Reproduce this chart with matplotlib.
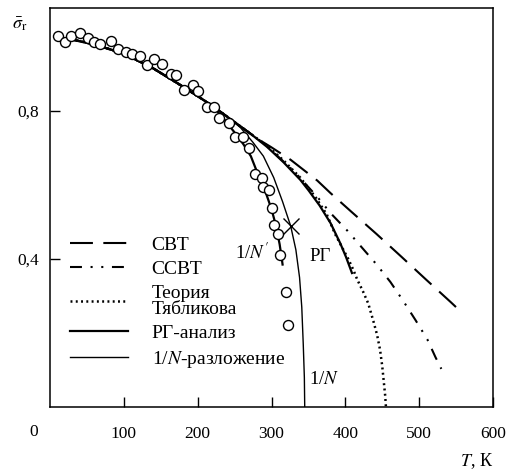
import matplotlib
matplotlib.use('Agg')
import matplotlib.pyplot as plt

plt.rcParams['font.family'] = ['Liberation Serif', 'DejaVu Serif']
plt.rcParams['mathtext.fontset'] = 'stix'
plt.rcParams['lines.scale_dashes'] = False

# ---------------- data ----------------
# experimental points
exp_T = [11, 20, 28, 40, 51, 59, 68, 82, 92, 103, 111, 122, 131, 141, 152, 164, 171,
         181, 194, 201, 212, 222, 229, 242, 251, 261, 270, 277, 287, 289, 296, 300,
         304, 309, 312, 320, 323]
exp_s = [1.003, 0.987, 1.003, 1.010, 0.998, 0.987, 0.980, 0.990, 0.967, 0.960, 0.953,
         0.949, 0.924, 0.940, 0.926, 0.901, 0.896, 0.858, 0.869, 0.853, 0.811, 0.811,
         0.780, 0.767, 0.730, 0.730, 0.700, 0.629, 0.619, 0.595, 0.586, 0.539, 0.492,
         0.468, 0.411, 0.311, 0.222]

# common low-temperature part of the theory curves
com_T = [8, 30, 60, 100, 140, 180, 220, 250, 272]
com_s = [1.000, 0.993, 0.980, 0.955, 0.915, 0.866, 0.814, 0.770, 0.738]

cbt_T = com_T + [285, 299, 326, 362, 380, 408, 442, 476, 509, 543, 560]
cbt_s = com_s + [0.720, 0.703, 0.668, 0.612, 0.578, 0.528, 0.468, 0.406, 0.345, 0.283, 0.251]

ccbt_T = com_T + [290, 330, 362, 380, 403, 422, 442, 461, 478, 495, 511, 522, 530]
ccbt_s = com_s + [0.712, 0.638, 0.568, 0.524, 0.476, 0.432, 0.386, 0.338, 0.288, 0.235,
                  0.183, 0.135, 0.103]

tyab_T = com_T + [294, 316, 339, 360, 375, 386, 396, 404, 411, 416, 424, 431, 438, 443,
                  447, 450, 452, 454, 455]
tyab_s = com_s + [0.706, 0.667, 0.620, 0.566, 0.520, 0.468, 0.430, 0.400, 0.370, 0.345,
                  0.312, 0.280, 0.232, 0.195, 0.155, 0.110, 0.070, 0.030, 0.0]

rg_T = com_T + [294, 316, 339, 350, 365, 380, 393, 401, 409]
rg_s = com_s + [0.703, 0.662, 0.614, 0.586, 0.545, 0.497, 0.443, 0.405, 0.362]

n_T = com_T[:7] + [240, 258, 275, 289, 303, 315, 326, 333, 338, 341, 343, 344.5, 345]
n_s = com_s[:7] + [0.785, 0.755, 0.715, 0.678, 0.620, 0.555, 0.489, 0.425, 0.350, 0.270,
                   0.170, 0.080, 0.0]

np_T = com_T[:7] + [235, 250, 262, 272, 285, 293, 300, 306, 311, 314, 315]
np_s = com_s[:7] + [0.780, 0.742, 0.710, 0.678, 0.612, 0.575, 0.535, 0.490, 0.440, 0.400, 0.385]

cross_T = [326]
cross_s = [0.489]

legend_labels = ['СВТ', 'ССВТ', 'Теория\nТябликова', 'РГ-анализ', '1/$N$-разложение']
xticks = [100, 200, 300, 400, 500, 600]
yticks = [0.4, 0.8]
ytick_labels = ['0,4', '0,8']

# ---------------- figure ----------------
fig = plt.figure(figsize=(5.09, 4.70), dpi=100)
ax = fig.add_axes([50/509, 1-407/470, 443/509, 399/470])

k = 'black'
l_cbt, = ax.plot(cbt_T, cbt_s, color=k, lw=1.5, dashes=(16.5, 7.5))
l_ccbt, = ax.plot(ccbt_T, ccbt_s, color=k, lw=1.5, dashes=(8.6, 6.2, 1.5, 6.2, 1.5, 6.2))
l_tyab, = ax.plot(tyab_T, tyab_s, color=k, lw=1.8, dashes=(1.4, 2.4))
l_rg, = ax.plot(rg_T, rg_s, color=k, lw=1.6)
l_n, = ax.plot(n_T, n_s, color=k, lw=1.0)
ax.plot(np_T, np_s, color=k, lw=1.6)
ax.plot(exp_T, exp_s, 'o', ms=7.2, mfc='white', mec=k, mew=1.0, zorder=5)
ax.plot(cross_T, cross_s, 'x', ms=11, mec=k, mew=1.0, zorder=6)

ax.set_xlim(0, 600)
ax.set_ylim(0, 399/370)
ax.set_xticks(xticks)
ax.set_xticklabels([str(t) for t in xticks])
ax.set_yticks(yticks)
ax.set_yticklabels(ytick_labels)
ax.tick_params(direction='in', length=7.2, width=1.0, labelsize=12.5)
ax.tick_params(axis='x', pad=14)
ax.tick_params(axis='y', pad=8)
for s in ax.spines.values():
    s.set_linewidth(1.1)

# origin label, axis titles
ax.text(-12/443, -25/399, '0', transform=ax.transAxes, ha='right', va='center', fontsize=12.5)
ax.text(1.0, -54/399, '$T$, К', transform=ax.transAxes, ha='right', va='center', fontsize=13)
ax.text(-38/443, 383/399, r'$\bar{\sigma}_{\mathrm{r}}$', transform=ax.transAxes,
        ha='left', va='center', fontsize=13)

# curve labels
ax.text(296, 0.416, "1/$N'$", ha='right', va='center', fontsize=13.5)
ax.text(351, 0.408, 'РГ', ha='left', va='center', fontsize=13.5)
ax.text(351, 0.073, '1/$N$', ha='left', va='center', fontsize=13.5)

leg = ax.legend([l_cbt, l_ccbt, l_tyab, l_rg, l_n], legend_labels,
                loc='upper left', bbox_to_anchor=(20/443, 171/399), frameon=False,
                fontsize=14, handlelength=3.0, handletextpad=1.2, labelspacing=0.36,
                borderpad=0, borderaxespad=0)
leg.get_texts()[2].set_linespacing(0.88)

fig.savefig('out.png', dpi=100)
